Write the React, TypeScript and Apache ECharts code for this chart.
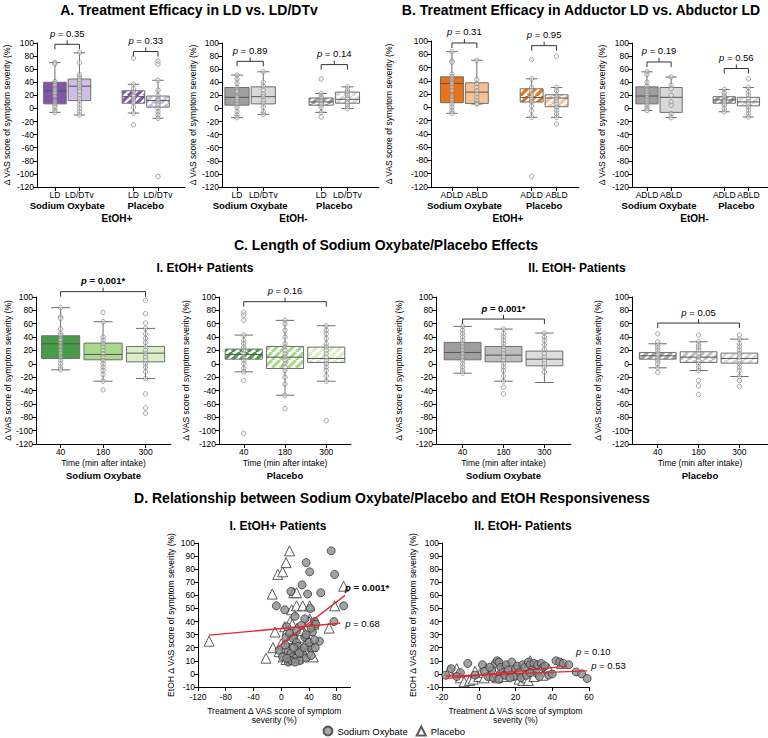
import React, { useEffect, useRef } from 'react';
import * as echarts from 'echarts';

const FONT = 'Liberation Sans, Arial, Helvetica, sans-serif';

// ---------- categories & labels ----------
const ldCats = ['LD', 'LD/DTv', 'LD', 'LD/DTv'];
const abCats = ['ADLD', 'ABLD', 'ADLD', 'ABLD'];
const timeCats = ['40', '180', '300'];
const treatGroups = ['Sodium Oxybate', 'Placebo'];
const yNameBox = 'Δ VAS score of symptom severity (%)';
const timeName = 'Time (min after intake)';

// ---------- A: LD vs LD/DTv  [min, Q1, median, Q3, max] ----------
const a1Stats = [[-6, 7, 27, 40, 70], [-10, 12, 34, 45, 85], [-7, 8, 18, 27, 37], [-15, 2, 12, 19, 43]];
const a1Points = [
  [70, 68, 41, 38, 35, 30, 28, 25, 22, 18, 12, 8, 5, 2, -3, -6],
  [85, 70, 52, 48, 45, 42, 38, 35, 32, 28, 25, 20, 15, 10, 5, 0, -5, -10],
  [77, 37, 30, 25, 20, 18, 15, 12, 8, 2, -7, -25],
  [72, 68, 43, 28, 20, 15, 12, 8, 5, 0, -5, -10, -15, -104],
];
const a1Tests = [[0, 1, 98, '0.35'], [2, 3, 87, '0.33']];

const a2Stats = [[-14, 5, 17, 32, 51], [-9, 7, 18, 33, 56], [-6, 5, 10, 16, 23], [0, 8, 14, 25, 33]];
const a2Points = [
  [51, 45, 38, 32, 28, 25, 20, 17, 14, 10, 6, 2, -5, -10, -14],
  [56, 40, 34, 28, 22, 18, 12, 8, 2, -5, -9],
  [45, 23, 18, 15, 12, 10, 8, 6, 2, -6, -13],
  [33, 28, 24, 20, 16, 14, 10, 8, 4, 0],
];
const a2Tests = [[0, 1, 72, '0.89'], [2, 3, 67, '0.14']];

// ---------- B: Adductor vs Abductor ----------
const b1Stats = [[-9, 7, 36, 46, 84], [5, 6, 23, 37, 71], [-15, 8, 15, 28, 43], [-15, 1, 14, 19, 30]];
const b1Points = [
  [84, 70, 68, 50, 46, 42, 38, 35, 30, 25, 18, 14, 10, 5, 0, -5, -9],
  [71, 42, 35, 30, 25, 20, 15, 10, 6, 5],
  [72, 43, 30, 25, 20, 15, 12, 8, 2, -5, -15, -104],
  [77, 30, 25, 19, 15, 12, 8, 4, 0, -5, -10, -15, -25],
];
const b1Tests = [[0, 1, 97, '0.31'], [2, 3, 93, '0.95']];

const b2Stats = [[-3, 7, 19, 33, 56], [-14, -6, 17, 32, 48], [-5, 8, 13, 18, 29], [-13, 4, 10, 17, 32]];
const b2Points = [
  [56, 52, 40, 34, 28, 24, 20, 16, 12, 8, 4, 0, -3],
  [48, 35, 30, 20, 10, 5, -8, -14],
  [29, 24, 20, 17, 14, 12, 10, 8, 5, 0, -5],
  [45, 32, 25, 20, 15, 10, 6, 2, -3, -8, -13],
];
const b2Tests = [[0, 1, 71, '0.19'], [2, 3, 61, '0.56']];

// ---------- C: time course ----------
const c1Stats = [[-9, 8, 30, 42, 84], [-26, 6, 14, 31, 63], [-22, 3, 16, 26, 53]];
const c1Points = [
  [84, 70, 68, 52, 45, 42, 38, 35, 30, 25, 20, 15, 10, 5, 0, -5, -9],
  [77, 63, 40, 35, 30, 25, 20, 15, 10, 5, 0, -5, -10, -16, -26, -39],
  [95, 75, 61, 53, 45, 38, 32, 26, 20, 15, 10, 5, 0, -5, -12, -22, -45, -66, -74],
];
const c1Tests = [[0, 2, 108, '0.001*']];

const c2Stats = [[-12, 7, 14, 22, 43], [-47, -7, 10, 26, 65], [-26, 2, 8, 25, 57]];
const c2Points = [
  [77, 73, 65, 43, 35, 30, 25, 20, 15, 10, 5, 0, -7, -12, -25, -104],
  [65, 60, 50, 40, 30, 25, 20, 15, 10, 5, 0, -5, -10, -20, -30, -47, -67],
  [57, 50, 45, 38, 30, 25, 20, 15, 10, 5, 0, -5, -10, -18, -26, -85],
];
const c2Tests = [[0, 2, 93, '0.16']];

const c3Stats = [[-14, 6, 17, 32, 56], [-26, 3, 13, 26, 52], [-28, -3, 7, 19, 46]];
const c3Points = [
  [56, 50, 45, 40, 35, 30, 25, 20, 15, 10, 5, 0, -5, -10, -14],
  [52, 45, 40, 35, 30, 25, 20, 15, 10, 5, 0, -5, -10, -18, -26, -35, -45],
  [46, 40, 35, 28, 22, 15, 10, 5, 0, -5, -12],
];
const c3Tests = [[0, 2, 67, '0.001*']];

const c4Stats = [[-6, 7, 12, 17, 30], [-10, 2, 10, 18, 33], [-19, 1, 8, 16, 37]];
const c4Points = [
  [45, 33, 28, 24, 20, 16, 12, 8, 4, 0, -6, -13],
  [43, 33, 28, 24, 20, 15, 10, 5, 0, -5, -10, -25, -33, -46],
  [43, 37, 30, 25, 20, 15, 10, 5, 0, -5, -10, -19, -25, -34],
];
const c4Tests = [[0, 2, 61, '0.05']];

// ---------- D: scatter (treatment Δ, EtOH Δ) ----------
const d1SodiumOxybate = [
  [72, 94], [36, 85], [41, 78], [77, 76], [30, 68], [14, 63], [38, 61], [57, 62], [-7, 52], [5, 49],
  [42, 50], [90, 52], [76, 40], [48, 40], [34, 42], [8, 36], [22, 33], [45, 32], [55, 25], [34, 28],
  [41, 21], [49, 20], [7, 28], [12, 31], [17, 27], [22, 24], [24, 21], [29, 18], [31, 15], [36, 12],
  [43, 14], [10, 17], [14, 16], [17, 13], [12, 10], [21, 12], [26, 10], [10, 9], [15, 10], [20, 9],
  [40, 24], [48, 26], [50, 38], [43, 35], [36, 30], [29, 37], [20, 44], [6, 22], [-3, 18], [2, 13],
  [26, 16], [33, 20], [18, 20], [8, 12],
];
const d1Placebo = [
  [-104, 25], [-22, 12], [-13, 61], [-9, 32], [-12, 20], [-5, 76], [2, 78], [7, 85], [12, 94], [-3, 17],
  [3, 13], [15, 49], [18, 62], [22, 62], [22, 52], [31, 52], [41, 52], [34, 31], [41, 42], [45, 21],
  [46, 13], [77, 52], [69, 35], [90, 67], [5, 36], [9, 34], [13, 40], [16, 38], [19, 30], [23, 35],
  [27, 28], [29, 33], [15, 22], [11, 18], [21, 15], [25, 12], [7, 11], [31, 14], [35, 23], [40, 40],
  [47, 38], [18, 26], [6, 20], [0, 23], [12, 27],
];
const d1SoFit = [[-6.5, 20], [92, 60]];
const d1PlFit = [[-104, 29.7], [85, 38.7]];
const d1SoP = '0.001*';
const d1PlP = '0.68';

const d2SodiumOxybate = [
  [-18, -1], [-15, 4], [-6, 8], [-2, -1], [2, 7], [5, -2], [7, 3], [9, 8], [10, 10], [11, 9],
  [12, 5], [13, 1], [14, -1], [15, 7], [16, 3], [18, 9], [19, -2], [20, 4], [21, 6], [22, 1],
  [23, -3], [24, 7], [25, 5], [26, -1], [27, 9], [28, 7], [29, 3], [30, 8], [31, 1], [32, 7],
  [33, -2], [34, 8], [35, 5], [36, 6], [38, -1], [40, 0], [42, 10], [44, 9], [46, 8], [49, 7],
  [53, 1.5], [56, 0], [59, -3.5], [3, 2], [8, -3], [6, 5], [-10, 1], [-12, -2], [11, -4], [17, -3], [28, 1],
];
const d2Placebo = [
  [-16, 3], [-12, 4], [-10, -3], [-8, -6], [-5, -5], [-3, -4], [0, -2], [1, 1], [4, 4], [6, -1],
  [8, 2], [10, -3], [12, 3], [14, 5], [17, -1], [19, 2], [22, -4], [24, -5], [26, -3], [27, -5],
  [28, 10], [30, -2], [33, 3], [35, -1], [38, 4], [45, 8], [-2, 2], [3, -3], [13, -2], [20, 0],
];
const d2SoFit = [[-18, -3.6], [48, 6]];
const d2PlFit = [[-18, -1.8], [59, 2.3]];
const d2SoP = '0.10';
const d2PlP = '0.53';

// ---------- styles / layout ----------
const PURPLE = ['#7E57A8', '#CDBFE1'];
const GRAY2 = ['#A0A0A0', '#D8D8D8'];
const ORANGE = ['#E8711A', '#F6C294'];
const GREEN = ['#479C48', '#A9D98D', '#DBEEC6'];
const GRAY3 = ['#9E9E9E', '#BDBDBD', '#DDDDDD'];
const GRAY3H = ['#A6A6A6', '#C2C2C2', '#D8D8D8'];
const GROUP_STEP = 3.2;
const LINE = '#6e6e6e';

const titles = [
  { text: 'A. Treatment Efficacy in LD vs. LD/DTv', x: 189, y: 10, size: 14 },
  { text: 'B. Treatment Efficacy in Adductor LD vs. Abductor LD', x: 581, y: 10, size: 14 },
  { text: 'C. Length of Sodium Oxybate/Placebo Effects', x: 386, y: 245, size: 14 },
  { text: 'I. EtOH+ Patients', x: 205, y: 268, size: 12 },
  { text: 'II. EtOH- Patients', x: 577, y: 268, size: 12 },
  { text: 'D. Relationship between Sodium Oxybate/Placebo and EtOH Responsiveness', x: 392, y: 498, size: 14 },
  { text: 'I. EtOH+ Patients', x: 278, y: 526, size: 12 },
  { text: 'II. EtOH- Patients', x: 523, y: 526, size: 12 },
];

function makeHatch(color: string) {
  const s = 8;
  const cv = document.createElement('canvas');
  cv.width = s;
  cv.height = s;
  const ctx = cv.getContext('2d') as CanvasRenderingContext2D;
  ctx.fillStyle = '#ffffff';
  ctx.fillRect(0, 0, s, s);
  ctx.strokeStyle = color;
  ctx.lineWidth = 3.2;
  ctx.beginPath();
  for (const o of [-s, 0, s]) {
    ctx.moveTo(o, s);
    ctx.lineTo(o + s, 0);
  }
  ctx.stroke();
  return { image: cv, repeat: 'repeat' };
}

const pRich = (bold: boolean, size = 9.5) => ({
  i: { fontStyle: 'italic', fontWeight: bold ? 'bold' : 'normal', fontSize: size, fontFamily: FONT, color: '#000', fill: '#000' },
  n: { fontWeight: bold ? 'bold' : 'normal', fontSize: size, fontFamily: FONT, color: '#000', fill: '#000' },
});
const pText = (v: string) => `{i|p}{n| = ${v}}`;

function buildOption() {
  const grids: any[] = [];
  const xAxes: any[] = [];
  const yAxes: any[] = [];
  const series: any[] = [];

  const lbl = { fontSize: 8.5, color: '#000', fontFamily: FONT };
  const axisLine = { show: true, onZero: false, lineStyle: { color: '#000', width: 1 } };
  const axisTick = { show: true, inside: false, length: 4, lineStyle: { color: '#000', width: 1 } };

  const boxPanels = [
    { kind: 'pair', labels: ldCats, stats: a1Stats, points: a1Points, tests: a1Tests, colors: PURPLE, etoh: 'EtOH+',
      L: { left: 37, top: 43, width: 148, height: 144, xMin: -0.73, xMax: 5.3, nameGap: 26, shift: 6 } },
    { kind: 'pair', labels: ldCats, stats: a2Stats, points: a2Points, tests: a2Tests, colors: GRAY2, etoh: 'EtOH-',
      L: { left: 222, top: 43, width: 157, height: 144, xMin: -0.57, xMax: 5.4, nameGap: 25, shift: -7 } },
    { kind: 'pair', labels: abCats, stats: b1Stats, points: b1Points, tests: b1Tests, colors: ORANGE, etoh: 'EtOH+',
      L: { left: 431, top: 41, width: 148, height: 146, xMin: -0.84, xMax: 5.1, nameGap: 38, shift: 3 } },
    { kind: 'pair', labels: abCats, stats: b2Stats, points: b2Points, tests: b2Tests, colors: GRAY2, etoh: 'EtOH-',
      L: { left: 632, top: 43, width: 143, height: 144, xMin: -0.62, xMax: 5.3, nameGap: 26, shift: -9 } },
    { kind: 'time', labels: timeCats, stats: c1Stats, points: c1Points, tests: c1Tests, colors: GREEN, hatch: false, group: treatGroups[0],
      L: { left: 36, top: 297, width: 135, height: 147, xMin: -0.58, xMax: 2.6, nameGap: 22, shift: 0 } },
    { kind: 'time', labels: timeCats, stats: c2Stats, points: c2Points, tests: c2Tests, colors: GREEN, hatch: true, group: treatGroups[1],
      L: { left: 219, top: 297, width: 132, height: 147, xMin: -0.6, xMax: 2.6, nameGap: 29, shift: 0 } },
    { kind: 'time', labels: timeCats, stats: c3Stats, points: c3Points, tests: c3Tests, colors: GRAY3, hatch: false, group: treatGroups[0],
      L: { left: 436, top: 297, width: 135, height: 147, xMin: -0.65, xMax: 2.65, nameGap: 33, shift: 0 } },
    { kind: 'time', labels: timeCats, stats: c4Stats, points: c4Points, tests: c4Tests, colors: GRAY3H, hatch: true, group: treatGroups[1],
      L: { left: 632, top: 297, width: 136, height: 147, xMin: -0.63, xMax: 2.7, nameGap: 30, shift: 0 } },
  ];

  boxPanels.forEach((p: any) => {
    const L = p.L;
    const gi = grids.length;
    grids.push({ left: L.left, top: L.top, width: L.width, height: L.height, outerBoundsMode: 'none' });
    const pos = p.stats.map((_: any, i: number) => (p.kind === 'pair' ? Math.floor(i / 2) * GROUP_STEP + (i % 2) : i));
    const fills = p.stats.map((_: any, i: number) => {
      if (p.kind === 'pair') {
        const c = p.colors[i % 2];
        return i >= 2 ? makeHatch(c) : c;
      }
      return p.hatch ? makeHatch(p.colors[i]) : p.colors[i];
    });
    const findLabel = (v: number) => {
      const k = pos.findIndex((q: number) => Math.abs(q - v) < 1e-6);
      return k >= 0 ? p.labels[k] : '';
    };
    const xi = xAxes.length;
    const mainX: any = {
      gridIndex: gi, type: 'value', position: 'bottom', min: L.xMin, max: L.xMax,
      axisLine, axisTick: { ...axisTick, customValues: pos },
      axisLabel: { ...lbl, margin: 3, customValues: pos, formatter: (v: number) => findLabel(v) },
      splitLine: { show: false },
    };
    if (p.kind === 'time') {
      mainX.name = `{t|${timeName}}\n{b|${p.group}}`;
      mainX.nameLocation = 'middle';
      mainX.nameGap = 13;
      mainX.nameTextStyle = {
        rich: {
          t: { fontSize: 8.5, fontFamily: FONT, color: '#000', lineHeight: 12 },
          b: { fontSize: 9.5, fontWeight: 'bold', fontFamily: FONT, color: '#000', lineHeight: 12 },
        },
      };
    }
    xAxes.push(mainX);
    if (p.kind === 'pair') {
      const gpos = [0.5, 0.5 + GROUP_STEP];
      const sh = L.shift;
      xAxes.push({
        gridIndex: gi, type: 'value', position: 'bottom', offset: 10, min: L.xMin, max: L.xMax,
        axisLine: { show: false }, axisTick: { show: false }, splitLine: { show: false },
        axisLabel: {
          fontSize: 9.5, fontWeight: 'bold', color: '#000', fontFamily: FONT, margin: 3, customValues: gpos,
          formatter: (v: number) => (Math.abs(v - gpos[0]) < 1e-6 ? treatGroups[0] : Math.abs(v - gpos[1]) < 1e-6 ? treatGroups[1] : ''),
        },
        name: p.etoh, nameLocation: 'middle', nameGap: 16,
        nameTextStyle: { fontSize: 10, fontWeight: 'bold', color: '#000', fontFamily: FONT, padding: sh >= 0 ? [0, 0, 0, 2 * sh] : [0, -2 * sh, 0, 0] },
      });
    }
    const yi = yAxes.length;
    yAxes.push({
      gridIndex: gi, type: 'value', min: -120, max: 100, interval: 20,
      axisLine, axisTick, axisLabel: { ...lbl, margin: 3 }, splitLine: { show: false },
      name: yNameBox, nameLocation: 'middle', nameGap: L.nameGap, nameRotate: 90, nameTextStyle: { ...lbl },
    });

    const boxW = p.kind === 'pair' ? 0.92 : 0.9;
    series.push({
      type: 'custom', xAxisIndex: xi, yAxisIndex: yi, z: 2, silent: true,
      encode: { x: 0, y: [1, 2, 3, 4, 5] },
      data: p.stats.map((s: number[], i: number) => [pos[i], ...s]),
      renderItem: (params: any, api: any) => {
        const x = api.value(0);
        const c = (v: number) => api.coord([x, v]);
        const pMin = c(api.value(1));
        const pQ1 = c(api.value(2));
        const pMed = c(api.value(3));
        const pQ3 = c(api.value(4));
        const pMax = c(api.value(5));
        const cx = pMed[0];
        const bw = Math.abs(api.size([boxW, 0])[0]);
        const cap = bw * 0.5;
        const ls = { stroke: LINE, lineWidth: 1 };
        return {
          type: 'group',
          children: [
            { type: 'line', shape: { x1: cx, y1: pMax[1], x2: cx, y2: pQ3[1] }, style: ls },
            { type: 'line', shape: { x1: cx, y1: pQ1[1], x2: cx, y2: pMin[1] }, style: ls },
            { type: 'line', shape: { x1: cx - cap / 2, y1: pMax[1], x2: cx + cap / 2, y2: pMax[1] }, style: ls },
            { type: 'line', shape: { x1: cx - cap / 2, y1: pMin[1], x2: cx + cap / 2, y2: pMin[1] }, style: ls },
            { type: 'rect', shape: { x: cx - bw / 2, y: pQ3[1], width: bw, height: pQ1[1] - pQ3[1] },
              style: { fill: fills[params.dataIndex], stroke: LINE, lineWidth: 1 } },
            { type: 'line', shape: { x1: cx - bw / 2, y1: pMed[1], x2: cx + bw / 2, y2: pMed[1] }, style: { stroke: '#555', lineWidth: 1 } },
          ],
        };
      },
    });
    series.push({
      type: 'scatter', xAxisIndex: xi, yAxisIndex: yi, z: 3, silent: true,
      symbol: 'circle', symbolSize: 4.5,
      itemStyle: { color: 'rgba(235,235,235,0.55)', borderColor: '#7a7a7a', borderWidth: 0.8 },
      data: p.points.flatMap((arr: number[], i: number) => arr.map((v) => [pos[i], v])),
    });
    const texts = p.tests.map((t: any[]) => t[3]);
    series.push({
      type: 'custom', xAxisIndex: xi, yAxisIndex: yi, z: 4, silent: true, clip: false,
      encode: { x: [0, 1], y: 2 },
      data: p.tests.map((t: any[]) => [pos[t[0]], pos[t[1]], t[2]]),
      renderItem: (params: any, api: any) => {
        const a = api.coord([api.value(0), api.value(2)]);
        const b = api.coord([api.value(1), api.value(2)]);
        const y = a[1];
        const mid = (a[0] + b[0]) / 2;
        const t = texts[params.dataIndex];
        const bold = t.indexOf('*') >= 0;
        return {
          type: 'group',
          children: [
            { type: 'polyline', shape: { points: [[a[0], y + 5], [a[0], y], [b[0], y], [b[0], y + 5]] },
              style: { stroke: '#333', fill: 'none', lineWidth: 1 } },
            { type: 'line', shape: { x1: mid, y1: y, x2: mid, y2: y - 4 }, style: { stroke: '#333', lineWidth: 1 } },
            { type: 'text', x: mid, y: y - 11,
              style: { text: pText(t), rich: pRich(bold), fontSize: 9.5, fontFamily: FONT, fill: '#000',
                align: 'center', verticalAlign: 'middle', textAlign: 'center', textVerticalAlign: 'middle' } },
          ],
        };
      },
    });
  });

  // ---------- D scatter panels ----------
  const dPanels = [
    { so: d1SodiumOxybate, pl: d1Placebo, soFit: d1SoFit, plFit: d1PlFit, soP: d1SoP, plP: d1PlP,
      xMin: -120, xMax: 100, xInt: 40, showMax: false,
      L: { left: 198, top: 543, width: 152.6, height: 144, nameGap: 23 },
      soOff: [-5, -8], plOff: [0, 0] },
    { so: d2SodiumOxybate, pl: d2Placebo, soFit: d2SoFit, plFit: d2PlFit, soP: d2SoP, plP: d2PlP,
      xMin: -20, xMax: 60, xInt: 20, showMax: true,
      L: { left: 442, top: 543, width: 147, height: 144, nameGap: 25 },
      soOff: [4, -15], plOff: [-1, -5] },
  ];
  dPanels.forEach((d) => {
    const L = d.L;
    const gi = grids.length;
    grids.push({ left: L.left, top: L.top, width: L.width, height: L.height, outerBoundsMode: 'none' });
    const xi = xAxes.length;
    xAxes.push({
      gridIndex: gi, type: 'value', position: 'bottom', min: d.xMin, max: d.xMax, interval: d.xInt,
      axisLine, axisTick, axisLabel: { ...lbl, margin: 5, showMaxLabel: d.showMax }, splitLine: { show: false },
      name: 'Treatment Δ VAS score of symptom\nseverity (%)', nameLocation: 'middle', nameGap: 19,
      nameTextStyle: { ...lbl, lineHeight: 9.5 },
    });
    const yi = yAxes.length;
    yAxes.push({
      gridIndex: gi, type: 'value', min: -10, max: 100, interval: 10,
      axisLine, axisTick, axisLabel: { ...lbl, margin: 3 }, splitLine: { show: false },
      name: 'EtOH Δ VAS score of symptom severity (%)', nameLocation: 'middle', nameGap: L.nameGap, nameRotate: 90,
      nameTextStyle: { ...lbl },
    });
    series.push({
      type: 'scatter', name: 'Placebo', xAxisIndex: xi, yAxisIndex: yi, z: 2, silent: true,
      symbol: 'triangle', symbolSize: 10,
      itemStyle: { color: '#ffffff', borderColor: '#333', borderWidth: 1 },
      data: d.pl,
    });
    series.push({
      type: 'scatter', name: 'Sodium Oxybate', xAxisIndex: xi, yAxisIndex: yi, z: 3, silent: true,
      symbol: 'circle', symbolSize: 8,
      itemStyle: { color: '#8c8c8c', borderColor: '#3a3a3a', borderWidth: 1 },
      data: d.so,
    });
    const fit = (data: number[][], p: string, off: number[]) => ({
      type: 'line', xAxisIndex: xi, yAxisIndex: yi, z: 5, silent: true, symbol: 'none',
      lineStyle: { color: '#E5262E', width: 1.3 }, data,
      endLabel: { show: true, formatter: () => pText(p), rich: pRich(p.indexOf('*') >= 0), offset: off, distance: 5 },
    });
    series.push(fit(d.soFit, d.soP, d.soOff));
    series.push(fit(d.plFit, d.plP, d.plOff));
  });

  return {
    animation: false,
    backgroundColor: '#ffffff',
    textStyle: { fontFamily: FONT },
    grid: grids,
    xAxis: xAxes,
    yAxis: yAxes,
    series,
    legend: {
      left: 322.5, top: 725.5, padding: 0, itemWidth: 9, itemHeight: 9, itemGap: 8, selectedMode: false,
      textStyle: { fontSize: 9.5, color: '#000', fontFamily: FONT },
      data: [{ name: 'Sodium Oxybate', icon: 'circle' }, { name: 'Placebo', icon: 'triangle' }],
    },
    graphic: {
      elements: titles.map((t) => ({
        type: 'text', x: t.x, y: t.y, silent: true,
        style: { text: t.text, fontSize: t.size, fontWeight: 'bold', fontFamily: FONT, fill: '#000',
          align: 'center', verticalAlign: 'middle', textAlign: 'center', textVerticalAlign: 'middle' },
      })),
    },
  };
}

export default function App() {
  const ref = useRef<HTMLDivElement>(null);
  useEffect(() => {
    if (!ref.current) return;
    const chart = echarts.init(ref.current, null, { renderer: 'svg' });
    chart.setOption(buildOption() as any);
    return () => chart.dispose();
  }, []);
  return (
    <div
      ref={ref}
      style={{ position: 'absolute', left: 0, top: 0, width: 768, height: 738, background: '#fff' }}
    />
  );
}
